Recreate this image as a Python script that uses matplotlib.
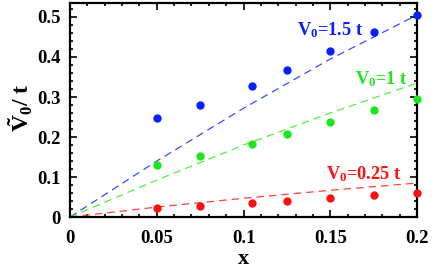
import matplotlib.pyplot as plt
from matplotlib.ticker import MultipleLocator, FuncFormatter

# data points
x_pts = [0.05, 0.075, 0.105, 0.125, 0.15, 0.175, 0.2]
v15_pts = [0.2475, 0.28, 0.328, 0.3675, 0.414, 0.4625, 0.506]
v10_pts = [0.13, 0.1525, 0.183, 0.2075, 0.2375, 0.2675, 0.296]
v025_pts = [0.0225, 0.0275, 0.035, 0.041, 0.0475, 0.054, 0.061]

# dashed reference curves (read at a few x values)
x_line = [0, 0.05, 0.1, 0.15, 0.2]
v15_line = [0, 0.14, 0.272, 0.395, 0.505]
v10_line = [0, 0.0925, 0.18, 0.26, 0.335]
v025_line = [0, 0.025, 0.047, 0.067, 0.085]

plt.rcParams['font.family'] = ['Liberation Serif', 'DejaVu Serif']
plt.rcParams['font.weight'] = 'bold'
plt.rcParams['mathtext.fontset'] = 'custom'
plt.rcParams['mathtext.rm'] = 'Liberation Serif:bold'
plt.rcParams['mathtext.bf'] = 'Liberation Serif:bold'
plt.rcParams['mathtext.it'] = 'Liberation Serif:bold'

fig = plt.figure(figsize=(4.36, 2.70), dpi=100)
ax = fig.add_axes([0.1606, 0.196, 0.796, 0.793])

series = [
    (v15_pts, v15_line, '#0a1eff', '#3a4cff'),
    (v10_pts, v10_line, '#1ee61e', '#55ee40'),
    (v025_pts, v025_line, '#ff1010', '#ff4040'),
]
for pts, line, c, lc in series:
    ax.plot(x_line, line, color=lc, lw=0.9, dashes=(6, 4))
    ax.scatter(x_pts, pts, s=36, color=c, zorder=3, clip_on=False, linewidths=0)

ax.text(0.1308, 0.467, r'$\mathrm{V_0}$=1.5 t', color='#0a1eff', fontsize=13.2,
        ha='left', va='center')
ax.text(0.1645, 0.344, r'$\mathrm{V_0}$=1 t', color='#1ee61e', fontsize=13.2,
        ha='left', va='center')
ax.text(0.1478, 0.107, r'$\mathrm{V_0}$=0.25 t', color='#ff1010', fontsize=13.2,
        ha='left', va='center')

ax.set_xlim(0, 0.2)
ax.set_ylim(0, 0.535)
ax.xaxis.set_major_locator(MultipleLocator(0.05))
ax.xaxis.set_minor_locator(MultipleLocator(0.01))
ax.yaxis.set_major_locator(MultipleLocator(0.1))
ax.yaxis.set_minor_locator(MultipleLocator(0.02))


def fmt(v, pos):
    s = f'{v:.2f}'.rstrip('0').rstrip('.')
    return s if s else '0'


ax.xaxis.set_major_formatter(FuncFormatter(fmt))
ax.yaxis.set_major_formatter(FuncFormatter(fmt))
ax.tick_params(which='both', direction='in', top=True, right=True, width=1.2)
ax.tick_params(which='major', length=5, labelsize=13.5)
ax.tick_params(axis='x', which='major', pad=9)
ax.tick_params(axis='y', which='major', pad=7)
ax.tick_params(which='minor', length=2.5)
for sp in ax.spines.values():
    sp.set_linewidth(1.6)

ax.set_xlabel('x', fontsize=16, fontweight='bold', labelpad=2)
fig.text(21 / 436, 1 - 108 / 270, r'$\mathrm{\tilde{V}_0}$/ t', fontsize=17,
         fontweight='bold', rotation=90, ha='center', va='center')

fig.savefig('out.png', dpi=100)
